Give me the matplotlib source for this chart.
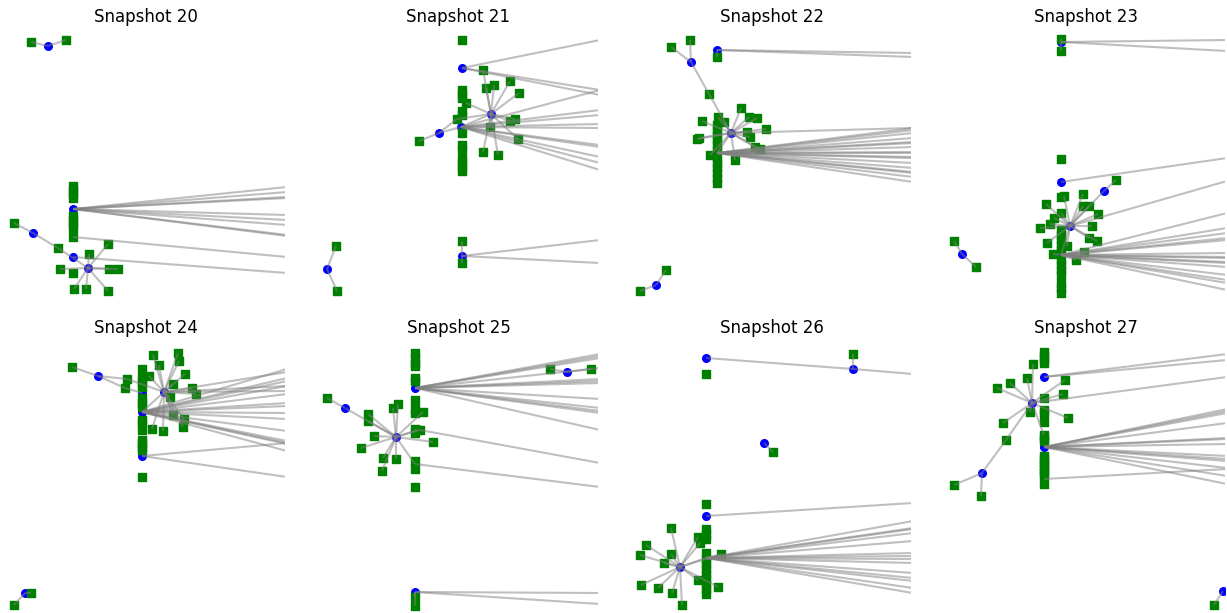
import matplotlib
matplotlib.use("Agg")
import matplotlib.pyplot as plt
from matplotlib.collections import LineCollection

# layout positions (pixel units), per snapshot
# blue = hub nodes, green = leaf nodes, links = edges by node id,
# exits = edges to nodes lying off to the right of the view (node id, y where they leave)

blue_20 = [(48, 46), (73, 209), (33, 233), (73, 257), (88, 268)]
green_20 = [(31, 42), (66, 40), (14, 223), (58, 248), (73, 237),
            (73, 186), (73, 190), (73, 194), (73, 198), (73, 216), (73, 220), (73, 224), (73, 228),
            (89, 254), (108, 244), (60, 269), (73, 273), (109, 269), (118, 269), (74, 289), (86, 289), (108, 291)]
links_20 = ["b0-g0", "b0-g1", "b2-g2", "b2-g3", "g3-b4", "b4-g13", "b4-g14", "b4-g15",
            "b4-g17", "b4-g18", "b4-g19", "b4-g20", "b4-g21"]
exits_20 = [("b1", 187), ("b1", 192), ("b1", 197), ("b1", 198), ("b1", 215), ("b1", 220),
            ("b1", 225), ("b1", 235), ("b1", 236), ("g4", 257), ("b3", 273)]

blue_21 = [(462, 68), (491, 114), (461, 127), (439, 133), (462, 256), (327, 269)]
green_21 = [(462, 40), (483, 70), (486, 88), (494, 85), (510, 81), (519, 93), (466, 103), (457, 119),
            (490, 127), (510, 121), (515, 119), (518, 139), (483, 152), (498, 155), (419, 141),
            (462, 90), (462, 94), (462, 98), (462, 111), (462, 115), (462, 133), (462, 145), (462, 149),
            (462, 158), (462, 162), (462, 167), (462, 171),
            (462, 241), (462, 263), (336, 246), (337, 291)]
links_21 = ["b1-g%d" % i for i in range(1, 14)] + ["b1-b2", "b3-g14", "b3-b2", "b3-g7",
                                                 "b4-g27", "b4-g28", "b5-g29", "b5-g30"]
exits_21 = [("b0", 40), ("b0", 90), ("b0", 95),
            ("b2", 90), ("b2", 110), ("b2", 115), ("b2", 124), ("b2", 128), ("b2", 145),
            ("b2", 147), ("b2", 157), ("b2", 163), ("b2", 170), ("b4", 240), ("b4", 263)]

blue_22 = [(691, 62), (717, 50), (731, 133), (717, 153), (656, 285)]
green_22 = [(671, 47), (690, 40), (709, 94), (717, 57),
            (741, 108), (749, 117), (757, 118), (766, 129), (747, 132), (750, 137), (755, 147), (760, 149),
            (735, 160), (702, 121), (718, 117), (724, 122), (699, 138), (697, 139), (710, 155),
            (717, 125), (717, 130), (717, 135), (717, 140), (717, 145), (717, 150), (717, 158), (717, 163),
            (717, 168), (717, 173), (717, 178), (717, 183),
            (666, 270), (640, 291)]
links_22 = ["b0-g0", "b0-g1", "b0-g2", "g2-b2", "b2-b3", "b4-g31", "b4-g32", "b1-g3"] + \
           ["b2-g%d" % i for i in range(4, 19)]
exits_22 = [("b1", 53), ("b1", 57), ("b2", 128)] + \
           [("b3", y) for y in (128, 130, 133, 138, 142, 143, 147, 152, 153, 157, 158, 163, 168, 172, 173, 177, 182)]

blue_23 = [(1061, 42), (1061, 182), (1104, 191), (1070, 226), (1061, 255), (962, 254)]
green_23 = [(1061, 39), (1061, 51), (1061, 159), (1116, 180),
            (1064, 196), (1083, 194), (1089, 206), (1046, 204), (1054, 218), (1050, 224), (1040, 228),
            (1047, 243), (1092, 226), (1098, 214), (1089, 238), (1097, 241), (1067, 246), (1061, 213),
            (1083, 206),
            (1053, 254), (1084, 252), (1076, 260),
            (1061, 197), (1061, 230), (1061, 235), (1061, 240), (1061, 245), (1061, 250), (1061, 260),
            (1061, 265), (1061, 270), (1061, 275), (1061, 283), (1061, 288), (1061, 293),
            (954, 241), (976, 267)]
links_23 = ["b0-g0", "b0-g1", "b2-g3", "b2-b3", "b3-b4", "b4-g19", "b4-g20", "b4-g21",
            "b5-g35", "b5-g36"] + ["b3-g%d" % i for i in range(4, 19)]
exits_23 = [("b0", 40), ("b0", 51), ("b1", 158), ("b3", 181)] + \
           [("b4", y) for y in (213, 228, 233, 238, 240, 253, 257, 258, 262, 263, 267, 275, 280, 283, 290)]

blue_24 = [(98, 376), (164, 392), (142, 393), (142, 412), (142, 456), (25, 593)]
green_24 = [(72, 367), (127, 379), (125, 388),
            (153, 355), (178, 353), (179, 361), (159, 365), (185, 374), (173, 384), (149, 376), (192, 388),
            (196, 394), (170, 397), (152, 429), (163, 431), (173, 415), (184, 419), (183, 427),
            (142, 369), (142, 378), (142, 382), (142, 387), (142, 398), (142, 403), (142, 407), (142, 420),
            (142, 423), (142, 430), (142, 440), (142, 443), (142, 447), (142, 450), (142, 477),
            (31, 593), (14, 605)]
links_24 = ["b0-g0", "b0-g1", "b0-g2", "g1-b1", "g2-b2", "b1-b3", "b5-g33", "b5-g34"] + \
           ["b1-g%d" % i for i in range(3, 18)]
exits_24 = [("b1", 372), ("b1", 386), ("b1", 391)] + \
           [("b3", y) for y in (369, 378, 381, 386, 394, 403, 406, 413, 419, 431, 441, 443, 444, 451)] + \
           [("b4", 443), ("b4", 477)]

blue_25 = [(415, 388), (567, 372), (345, 408), (396, 437), (415, 464), (415, 592)]
green_25 = [(415, 353), (415, 358), (415, 363), (415, 366), (415, 378), (415, 381), (415, 400), (415, 409),
            (415, 413), (415, 429), (415, 433), (415, 461), (415, 469), (415, 487),
            (550, 369), (591, 369), (327, 398),
            (368, 414), (368, 421), (393, 408), (398, 404), (374, 436), (361, 448), (383, 458), (396, 459),
            (382, 471), (417, 430), (420, 430), (433, 442), (423, 412),
            (415, 597), (415, 606)]
links_25 = ["b1-g14", "b1-g15", "b2-g16", "b2-b3", "b3-b4", "b5-g30", "b5-g31"] + \
           ["b3-g%d" % i for i in range(17, 30)]
exits_25 = [("b0", y) for y in (354, 356, 358, 368, 379, 381, 383, 399, 408, 411, 413, 430)] + \
           [("g27", 463), ("b4", 487), ("b5", 593), ("b5", 604)]

blue_26 = [(706, 358), (853, 369), (764, 443), (706, 516), (706, 558), (680, 567)]
green_26 = [(706, 374), (853, 354), (773, 452), (706, 504),
            (706, 529), (706, 534), (706, 539), (706, 553), (706, 559), (706, 564), (706, 569), (706, 574),
            (706, 579), (706, 584), (706, 589), (706, 594),
            (671, 528), (646, 545), (640, 555), (671, 554), (664, 563), (641, 585), (658, 588), (672, 593),
            (682, 605), (698, 537), (700, 543), (698, 580), (718, 587), (721, 554)]
links_26 = ["b0-b1", "b1-g1", "b2-g2", "b5-b4"] + ["b5-g%d" % i for i in range(16, 30)]
exits_26 = [("b1", 374), ("b3", 503)] + \
           [("b4", y) for y in (521, 528, 529, 533, 541, 553, 556, 559, 563, 573, 578, 581, 588, 593)]

blue_27 = [(1044, 377), (1032, 403), (982, 473), (1044, 447), (1044, 479), (1223, 591)]
green_27 = [(1044, 352), (1044, 356), (1044, 359), (1044, 363), (1044, 398), (1044, 410), (1044, 413),
            (1044, 422), (1044, 435), (1044, 438), (1044, 441), (1044, 456), (1044, 459), (1044, 463),
            (1044, 466), (1044, 469), (1044, 473), (1044, 476), (1044, 484),
            (1033, 364), (1027, 378), (1010, 383), (997, 388), (1065, 380), (1063, 394), (1030, 412),
            (1068, 418), (1003, 423), (1006, 440),
            (954, 485), (981, 496), (1214, 605)]
links_27 = ["b1-g8", "g28-b2", "b2-g29", "b2-g30", "b5-g31"] + ["b1-g%d" % i for i in range(19, 29)]
exits_27 = [("b0", 354), ("b0", 360), ("b1", 377)] + \
           [("b3", y) for y in (409, 411, 413, 423, 438, 439, 444, 456, 459, 461, 468, 476, 484)] + \
           [("b4", 469)]

snapshots = [20, 21, 22, 23, 24, 25, 26, 27]
blues = [blue_20, blue_21, blue_22, blue_23, blue_24, blue_25, blue_26, blue_27]
greens = [green_20, green_21, green_22, green_23, green_24, green_25, green_26, green_27]
links = [links_20, links_21, links_22, links_23, links_24, links_25, links_26, links_27]
exits = [exits_20, exits_21, exits_22, exits_23, exits_24, exits_25, exits_26, exits_27]

W, H = 1227, 613
col_left = [6, 319, 632, 946]
row_top = [30, 341]
pw, ph = 279, 272

fig = plt.figure(figsize=(W / 100, H / 100), dpi=100)

for k, snap in enumerate(snapshots):
    x0 = col_left[k % 4]
    y0 = row_top[k // 4]
    ax = fig.add_axes([x0 / W, 1 - (y0 + ph) / H, pw / W, ph / H])
    ax.set_xlim(x0, x0 + pw)
    ax.set_ylim(y0 + ph, y0)

    pos = {}
    for i, p in enumerate(blues[k]):
        pos["b%d" % i] = p
    for i, p in enumerate(greens[k]):
        pos["g%d" % i] = p

    segs = []
    for e in links[k]:
        a, b = e.split("-")
        segs.append([pos[a], pos[b]])
    for node, y in exits[k]:
        segs.append([pos[node], (x0 + pw + 2, y)])

    gx = [p[0] for p in greens[k]]
    gy = [p[1] for p in greens[k]]
    bx = [p[0] for p in blues[k]]
    by = [p[1] for p in blues[k]]
    # hubs under the leaves, edges over everything
    ax.scatter(bx, by, s=30, marker="o", color="blue", zorder=1)
    ax.scatter(gx, gy, s=27, marker="s", color="green", zorder=2)
    ax.add_collection(LineCollection(segs, colors="gray", alpha=0.5, linewidths=1.5, zorder=3))

    ax.set_title("Snapshot %d" % snap, fontsize=12)
    ax.axis("off")

fig.savefig("out.png", dpi=100)
